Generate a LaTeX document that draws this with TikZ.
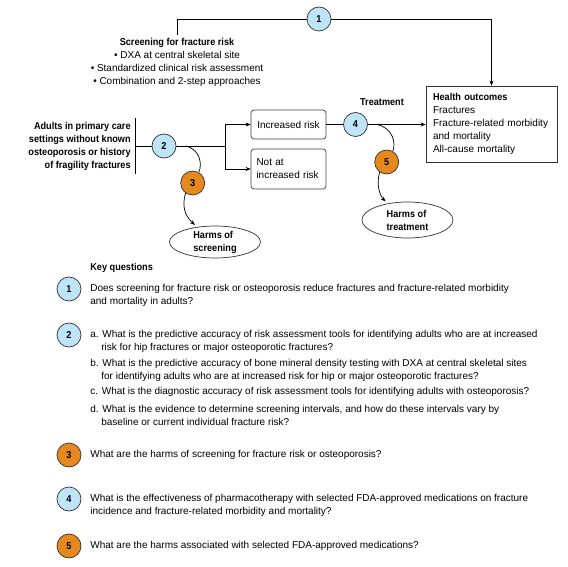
\documentclass[tikz,border=0pt]{standalone}
\usepackage{fontspec}
\setmainfont{Liberation Sans}[BoldFeatures={FakeStretch=0.915}]
\usetikzlibrary{arrows.meta,shapes.geometric}
\definecolor{kqblue}{HTML}{BFE4F7}
\definecolor{kqorange}{HTML}{E5891F}
\newcommand{\kqfont}{\fontsize{10}{13}\selectfont}
\tikzset{
  kq/.style={draw=black!80, circle, minimum size=24pt, inner sep=0pt, font=\kqfont\bfseries},
  kqb/.style={kq, fill=kqblue},
  kqo/.style={kq, fill=kqorange},
  riskbox/.style={draw=black!75, rounded corners=3pt, minimum width=75pt},
  harm/.style={draw=black!80, ellipse, minimum width=91pt, inner sep=0pt, align=left, font=\kqfont\bfseries},
  qtext/.style={anchor=west, align=left, inner sep=0pt},
  arr/.style={-{Stealth[length=5pt,width=4pt]}},
}
\begin{document}
\begin{tikzpicture}[x=1pt, y=-1pt, line width=0.7pt, font=\kqfont]
\useasboundingbox (0,0) rectangle (568,567);
        % top path, KQ 1
        \node[kqb] (q1) at (319,19) {1};
        \node[align=center] (screen) at (177,62.5) {\textbf{Screening for fracture risk}\\\textbullet\ DXA at central skeletal site\\\textbullet\ Standardized clinical risk assessment\\\textbullet\ Combination and 2-step approaches};
        \node[draw=black!80, align=left, text width=117pt, inner xsep=7pt, minimum height=76pt] (hout) at (491.5,124) {\textbf{Health outcomes}\\Fractures\\Fracture-related morbidity\\and mortality\\All-cause mortality};
        \draw (screen) |- (q1);
        \draw[arr] (q1) -| (hout);
        % population and screening
        \node[anchor=east, align=right, font=\kqfont\bfseries, inner xsep=4pt] (adults) at (135,146) {Adults in primary care\\settings without known\\osteoporosis or history\\of fragility fractures};
        \draw (adults.north east) -- (adults.south east);
        \node[kqb] (q2) at (164,146) {2};
        \coordinate (split) at (225,146);
        \node[riskbox, minimum height=29pt] (inc) at (288.5,124.5) {Increased risk};
        \node[riskbox, minimum height=40pt, align=left, text width=64pt] (notinc) at (288.5,169) {Not at\\increased risk};
        \draw (adults) -- (q2);
        \draw (q2) -- (split);
        \draw[arr] (split) |- (inc);
        \draw[arr] (split) |- (notinc);
        % treatment
        \node[kqb] (q4) at (355.5,124.5) {4};
        \node[font=\kqfont\bfseries] (treat) at (382,102) {Treatment};
        \draw (inc) -- (q4);
        \draw[arr] (q4) -- (q4 -| hout.west);
        % harms
        \node[kqo] (q3) at (192.7,183) {3};
        \node[harm, minimum height=32pt] (hs) at (215,242) {Harms of\\screening};
        \coordinate (s3) at (186,146);
        \draw (s3) .. controls (201,150) and (202,165) .. (q3.60);
        \draw[arr, shorten >=3pt] (q3.235) .. controls (182,205) and (184,215) .. (hs.140);
        \node[kqo] (q5) at (386.7,162) {5};
        \node[harm, minimum height=36pt] (ht) at (407.5,220) {Harms of\\treatment};
        \coordinate (s5) at (377,124.5);
        \draw (s5) .. controls (393,128) and (396,143) .. (q5.60);
        \draw[arr, shorten >=3pt] (q5.235) .. controls (376,185) and (380,196) .. (ht.140);
        % key questions
        \node[qtext, font=\kqfont\bfseries] (kqhead) at (90,268) {Key questions};
        \node[kqb] (k1) at (69,289) {1};
        \node[qtext] (t1) at (90,295) {Does screening for fracture risk or osteoporosis reduce fractures and fracture-related morbidity\\and mortality in adults?};
        \node[kqb] (k2) at (69,335) {2};
        \node[qtext] (t2a) at (90,341.5) {a. What is the predictive accuracy of risk assessment tools for identifying adults who are at increased\\\hspace*{11pt}risk for hip fractures or major osteoporotic fractures?};
        \node[qtext] (t2b) at (90,370.5) {b. What is the predictive accuracy of bone mineral density testing with DXA at central skeletal sites\\\hspace*{11pt}for identifying adults who are at increased risk for hip or major osteoporotic fractures?};
        \node[qtext] (t2c) at (90,392) {c. What is the diagnostic accuracy of risk assessment tools for identifying adults with osteoporosis?};
        \node[qtext] (t2d) at (90,415.5) {d. What is the evidence to determine screening intervals, and how do these intervals vary by\\\hspace*{11pt}baseline or current individual fracture risk?};
        \node[kqo] (k3) at (69,455) {3};
        \node[qtext] (t3) at (90,455) {What are the harms of screening for fracture risk or osteoporosis?};
        \node[kqb] (k4) at (69,499) {4};
        \node[qtext] (t4) at (90,505.5) {What is the effectiveness of pharmacotherapy with selected FDA-approved medications on fracture\\incidence and fracture-related morbidity and mortality?};
        \node[kqo] (k5) at (69,546) {5};
        \node[qtext] (t5) at (90,546) {What are the harms associated with selected FDA-approved medications?};
\end{tikzpicture}
\end{document}
